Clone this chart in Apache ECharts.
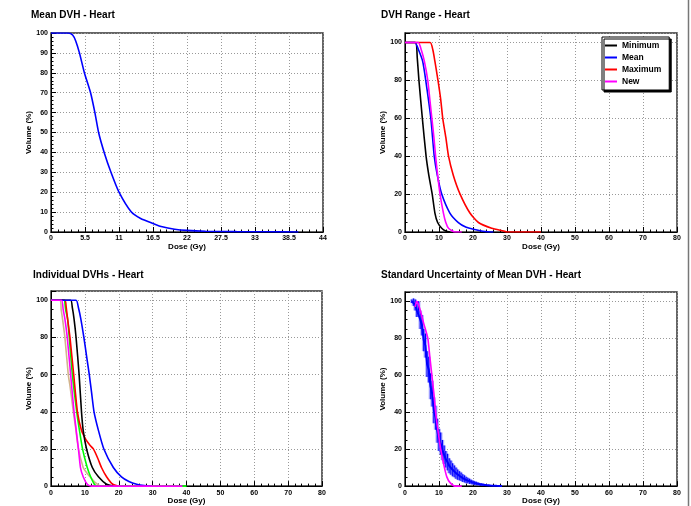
<!DOCTYPE html>
<html>
<head>
<meta charset="utf-8">
<script src="https://cdn.jsdelivr.net/npm/echarts@6/dist/echarts.min.js"></script>
<style>
  html, body { margin: 0; padding: 0; background: #fff; }
  #dataView { width: 691px; height: 506px; }
</style>
</head>
<body>
<div id="dataView"></div>
<script>
// Mean DVH - Heart   [dose (Gy), volume (%)]
var meanDVH = [[0,100],[2.8,100],[3.5,99],[4.0,96],[4.6,90],[5.4,80],[6.4,70],[7.1,60],[7.7,50],
  [8.6,40],[9.7,30],[11.0,20],[13.0,10],[14.5,6.8],[16.5,4.3],[18,2.6],[20,1.4],[22,0.8],
  [25,0.4],[30,0.2],[35,0.1],[40,0]];

// DVH Range - Heart
var rangeMinimum = [[0,100],[3.1,100],[3.6,92],[4.1,80],[5.1,60],[6.2,40],[7.0,30],[8.0,20],
  [8.8,10],[9.6,5],[10.8,2],[12,0.5],[13.3,0]];
var rangeMean = [[0,100],[2.9,100],[4.0,96],[5.2,90],[6.1,80],[7.6,60],[8.6,40],[9.5,30],
  [10.8,20],[13.2,10],[15.7,5],[18,2.5],[20.1,1.5],[23.5,0.3],[26,0]];
var rangeMaximum = [[0,100],[7.4,100],[8.2,96],[8.8,90],[9.7,80],[10.5,70],[11.1,60],[12.0,50],
  [12.8,40],[14.2,30],[16.2,20],[19.1,10],[21.6,5],[25.5,2],[29,0.5],[30,0],[40,0]];
var rangeNew = [[0,100],[3.9,100],[4.8,96],[5.7,90],[6.7,80],[7.3,70],[7.9,60],[8.5,50],
  [9.0,40],[9.6,30],[10.3,20],[11.3,10],[12.0,5],[12.8,2],[14.7,0],[16.7,0]];

// Individual DVHs - Heart
var indivNames = ['Patient 1','Patient 2','Patient 3','Patient 4','Patient 5','Patient 6'];
var indivColors = ['#d2b48c','#00ff00','#ff0000','#000000','#0000ff','#ff00ff'];
var indivCurves = [
  [[0,100],[2.7,100],[3.0,95],[3.4,90],[4.1,80],[5.1,60],[5.6,54],[6.6,40],[7.3,31],[8.1,20],
   [9.5,10],[10.2,8],[11.5,5],[13,2],[14.4,0]],
  [[0,100],[3.8,100],[4.3,95],[4.9,90],[5.4,80],[6.3,60],[7.6,40],[8.4,30],[9.3,20],[10.7,10],
   [11.7,5],[12.8,1],[13.5,0],[40,0]],
  [[0,100],[4.1,100],[4.5,96],[4.9,90],[5.6,80],[6.7,60],[7.8,40],[9.0,30],[10.3,25],[11.5,22],
   [12.5,20],[13.8,15],[14.9,10],[16.4,5],[18.2,1],[19.9,0]],
  [[0,100],[5.8,100],[6.3,96],[6.8,90],[7.4,80],[8.3,60],[9.0,40],[9.5,30],[10.5,20],[12.2,10],
   [14.0,5],[16.4,1],[18.4,0]],
  [[0,100],[7.4,100],[8.1,96],[8.8,90],[9.7,80],[10.5,70],[11.3,60],[12.0,50],[12.7,40],[14.0,30],
   [15.6,20],[18.4,10],[20.8,5],[23,2.5],[25.3,1],[27.5,0.3],[29.7,0]],
  [[0,100],[3.1,100],[3.6,95],[4.1,90],[4.8,80],[5.8,60],[6.8,40],[8.1,20],[8.7,10],[9.5,5],
   [10.7,1],[12,0],[38.8,0]]
];

// Standard Uncertainty of Mean DVH - Heart
var uncDose = [2.0,2.5,3.0,3.5,4.0,4.5,5.0,5.5,6.0,6.5,7.0,7.5,8.0,8.5,9.0,9.5,10.0,10.5,11.0,11.5,
  12.0,12.5,13.0,13.5,14.0,14.5,15.0,15.5,16.0,16.5,17.0,17.5,18.0,18.5,19.0,19.5,20.0,20.5,21.0,21.5,
  22.0,22.5,23.0,23.5,24.0,24.5,25.0,25.5,26.0,26.5,27.0,27.5,28.0,28.5];
var uncMean = [100,99.5,98,95,96,90,87,79,76,66,63,54,50,41,37,30,25,23,19.5,17,
  14.5,13,11,10,8.8,8,7,6.2,5.6,5,4.3,3.9,3.3,3,2.6,2.2,1.9,1.6,1.4,1.2,
  1,0.85,0.75,0.6,0.5,0.42,0.35,0.3,0.25,0.2,0.15,0.1,0.06,0.03];
var uncErr = [1,2,3,3.5,4,5,5.5,6,6.5,7,7,7,7,7,6.5,6.5,6,6,5.5,5,
  4.5,4.5,4,3.8,3.5,3.2,3,2.8,2.5,2.3,2.1,1.9,1.7,1.5,1.4,1.2,1.1,1,0.9,0.8,
  0.7,0.6,0.55,0.5,0.45,0.4,0.35,0.3,0.25,0.2,0.2,0.15,0.1,0.05];
var uncNew = [[3.0,97],[3.4,100],[3.8,99],[4.5,95],[5.5,88],[6.7,80],[7.3,70],[7.9,60],[8.5,50],
  [9.0,40],[9.7,30],[10.5,20],[11.6,10],[12.3,5],[13.2,2],[14.7,0],[16.7,0]];

var FONT = 'Liberation Sans, Arial, sans-serif';

function xAxisFor(gi, max, interval) {
  return {
    gridIndex: gi, type: 'value', min: 0, max: max, interval: interval,
    name: 'Dose (Gy)', nameLocation: 'middle', nameGap: 9,
    nameTextStyle: { fontSize: 8, fontWeight: 'bold', color: '#000' },
    axisLine: { show: true, onZero: false, lineStyle: { color: '#000', width: 1 } },
    axisTick: { inside: true, length: 5, lineStyle: { color: '#000' } },
    minorTick: { show: true, splitNumber: 5, length: 2.5, lineStyle: { color: '#000' } },
    axisLabel: { fontSize: 7, fontWeight: 'bold', color: '#000', margin: 3 },
    splitLine: { show: true, lineStyle: { color: '#999', type: [1, 2] } }
  };
}

function yAxisFor(gi, max, interval, minorSplit) {
  return {
    gridIndex: gi, type: 'value', min: 0, max: max, interval: interval,
    name: 'Volume (%)', nameLocation: 'middle', nameGap: 12,
    nameTextStyle: { fontSize: 8, fontWeight: 'bold', color: '#000' },
    axisLine: { show: true, onZero: false, lineStyle: { color: '#000', width: 1 } },
    axisTick: { inside: true, length: 5, lineStyle: { color: '#000' } },
    minorTick: { show: true, splitNumber: minorSplit, length: 2.5, lineStyle: { color: '#000' } },
    axisLabel: { fontSize: 7, fontWeight: 'bold', color: '#000', margin: 3, showMaxLabel: max % interval === 0 },
    splitLine: { show: true, lineStyle: { color: '#999', type: [1, 2] } }
  };
}

function curve(name, data, color, xi) {
  return {
    name: name, type: 'line', xAxisIndex: xi, yAxisIndex: xi, data: data,
    showSymbol: false, symbol: 'none', smooth: 0.2,
    lineStyle: { color: color, width: 1.6 }, itemStyle: { color: color }
  };
}

var gridStyle = { show: true, borderColor: '#333', borderWidth: 1.5, backgroundColor: '#fff' };

var series = [
  curve('Mean DVH', meanDVH, '#0000ff', 0),
  curve('Minimum', rangeMinimum, '#000000', 1),
  curve('Mean', rangeMean, '#0000ff', 1),
  curve('Maximum', rangeMaximum, '#ff0000', 1),
  curve('New', rangeNew, '#ff00ff', 1)
];
indivCurves.forEach(function(c, i) {
  series.push(curve(indivNames[i], c, indivColors[i], 2));
});
series.push({
  name: 'Uncertainty', type: 'custom', xAxisIndex: 3, yAxisIndex: 3, clip: true,
  data: uncDose.map(function(d, i) { return [d, uncMean[i], uncErr[i]]; }),
  renderItem: function(params, api) {
    var x = api.value(0), m = api.value(1), e = api.value(2);
    var top = api.coord([x, m + e]);
    var bot = api.coord([x, m - e]);
    return {
      type: 'group',
      children: [
        { type: 'rect', shape: { x: top[0] - 1.8, y: top[1], width: 3.6, height: Math.max(bot[1] - top[1], 1.5) },
          style: { fill: 'rgba(90,90,255,0.5)' } },
        { type: 'line', shape: { x1: top[0], y1: top[1], x2: top[0], y2: bot[1] },
          style: { stroke: '#0000ff', lineWidth: 1.2 } }
      ]
    };
  }
});
series.push({
  name: 'Mean (unc)', type: 'line', xAxisIndex: 3, yAxisIndex: 3,
  data: uncDose.map(function(d, i) { return [d, uncMean[i]]; }),
  showSymbol: false, symbol: 'none', lineStyle: { color: '#0000ff', width: 2 }
});
series.push(curve('New (unc)', uncNew, '#ff00ff', 3));

var dataViewcharts = echarts.init(document.getElementById('dataView'));
var dataViewoption = {
  animation: false,
  backgroundColor: '#fff',
  textStyle: { fontFamily: FONT },
  title: [
    { text: 'Mean DVH - Heart', left: 31, top: 10 },
    { text: 'DVH Range - Heart', left: 381, top: 10 },
    { text: 'Individual DVHs - Heart', left: 33, top: 270 },
    { text: 'Standard Uncertainty of Mean DVH - Heart', left: 381, top: 270 }
  ].map(function(t) {
    t.padding = 0;
    t.textStyle = { fontSize: 10, fontWeight: 'bold', color: '#000', fontFamily: FONT };
    return t;
  }),
  grid: [
    Object.assign({ left: 51, top: 33, width: 272, height: 199 }, gridStyle),
    Object.assign({ left: 405, top: 33, width: 272, height: 199 }, gridStyle),
    Object.assign({ left: 51, top: 291, width: 271, height: 200 }, gridStyle),
    Object.assign({ left: 405, top: 292, width: 272, height: 199 }, gridStyle)
  ],
  xAxis: [
    xAxisFor(0, 44, 5.5),
    xAxisFor(1, 80, 10),
    xAxisFor(2, 80, 10),
    xAxisFor(3, 80, 10)
  ],
  yAxis: [
    yAxisFor(0, 100, 10, 5),
    yAxisFor(1, 105, 20, 4),
    yAxisFor(2, 105, 20, 4),
    yAxisFor(3, 105, 20, 4)
  ],
  legend: {
    data: ['Minimum', 'Mean', 'Maximum', 'New'],
    orient: 'vertical', left: 602, top: 37,
    padding: [4, 8, 4, 3], itemGap: 3, itemWidth: 12, itemHeight: 2, icon: 'rect',
    backgroundColor: '#fff', borderColor: '#000', borderWidth: 1,
    shadowColor: '#000', shadowBlur: 0, shadowOffsetX: 2, shadowOffsetY: 2,
    textStyle: { fontSize: 8.5, fontWeight: 'bold', color: '#000', fontFamily: FONT }
  },
  graphic: [
    { type: 'line', shape: { x1: 688.5, y1: 0, x2: 688.5, y2: 506 }, style: { stroke: '#777', lineWidth: 1.5 } }
  ],
  series: series
};
dataViewcharts.setOption(dataViewoption);
</script>
</body>
</html>
